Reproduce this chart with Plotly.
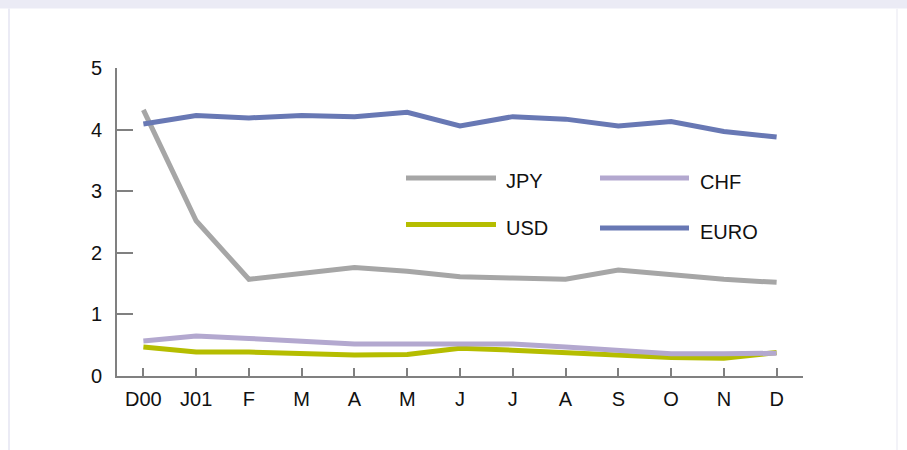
import plotly.graph_objects as go

months = ["D00", "J01", "F", "M", "A", "M ", "J", "J ", "A ", "S", "O", "N", "D"]
tick_labels = ["D00", "J01", "F", "M", "A", "M", "J", "J", "A", "S", "O", "N", "D"]

jpy = [4.32, 2.52, 1.57, 1.66, 1.76, 1.70, 1.61, 1.59, 1.57, 1.72, 1.64, 1.57, 1.52]
usd = [0.47, 0.39, 0.39, 0.37, 0.34, 0.35, 0.45, 0.42, 0.38, 0.35, 0.30, 0.29, 0.38]
chf = [0.57, 0.65, 0.61, 0.57, 0.52, 0.52, 0.51, 0.52, 0.47, 0.41, 0.36, 0.36, 0.37]
euro = [4.09, 4.23, 4.19, 4.23, 4.21, 4.28, 4.06, 4.21, 4.17, 4.06, 4.13, 3.97, 3.88]

series = [
    ("JPY", jpy, "#a6a6a6"),
    ("USD", usd, "#b5bd00"),
    ("CHF", chf, "#b3a8cf"),
    ("EURO", euro, "#6878b4"),
]

FONT = "Arial, Liberation Sans, sans-serif"

fig = go.Figure()
idx = list(range(len(months)))
for name, vals, col in series:
    fig.add_trace(go.Scatter(x=idx, y=vals, mode="lines", name=name,
                             line=dict(color=col, width=5), showlegend=False,
                             hoverinfo="skip"))

# plot area in pixels: x 117..803, y 68..376
L, R, T, B = 117, 803, 68, 376
W, H = R - L, B - T
def px(x):
    return (x - L) / W
def py(y):
    return (B - y) / H

shapes = []
# page decoration
shapes.append(dict(type="rect", xref="paper", yref="paper", x0=px(0), x1=px(907),
                   y0=py(8.5), y1=py(0), fillcolor="#ebebf5", line=dict(width=0), layer="below"))
shapes.append(dict(type="line", xref="paper", yref="paper", x0=px(9), x1=px(9),
                   y0=py(8.5), y1=py(450), line=dict(color="#ebebf5", width=2)))
shapes.append(dict(type="line", xref="paper", yref="paper", x0=px(897), x1=px(897),
                   y0=py(8.5), y1=py(450), line=dict(color="#f3f3f8", width=2)))

# legend
legend_pos = {
    "JPY": (406, 496, 178, 504, 181),
    "CHF": (600, 689, 178, 698, 182),
    "USD": (406, 496, 224.5, 504, 228),
    "EURO": (600, 689, 228, 698, 231.5),
}
annotations = []
for name, vals, col in series:
    x0, x1, ly, tx, ty = legend_pos[name]
    shapes.append(dict(type="line", xref="paper", yref="paper", x0=px(x0), x1=px(x1),
                       y0=py(ly), y1=py(ly), line=dict(color=col, width=5)))
    annotations.append(dict(text=name, xref="paper", yref="paper", x=px(tx), y=py(ty),
                            xanchor="left", yanchor="middle", showarrow=False,
                            font=dict(family=FONT, size=20, color="#111111")))

fig.update_layout(
    width=907, height=450,
    margin=dict(l=L, r=907 - R, t=T, b=450 - B, pad=0),
    paper_bgcolor="white", plot_bgcolor="white",
    shapes=shapes, annotations=annotations,
    font=dict(family=FONT, size=20, color="#111111"),
    xaxis=dict(range=[-0.5, 12.5], tickmode="array", tickvals=idx, ticktext=tick_labels,
               showgrid=False, zeroline=False, showline=True, linecolor="#808080",
               linewidth=2, ticks="inside", ticklen=8, tickwidth=2, tickcolor="#808080",
               ticklabelstandoff=4, fixedrange=True),
    yaxis=dict(range=[0, 5], tickvals=[0, 1, 2, 3, 4, 5], showgrid=False, zeroline=False,
               showline=True, linecolor="#808080", linewidth=2, ticks="inside", ticklen=16,
               tickwidth=2, tickcolor="#808080", ticklabelstandoff=9, fixedrange=True),
)

fig.write_html("out.html", post_script="document.body.style.margin='0px';document.body.style.overflow='hidden';",
               config={"displayModeBar": False})
